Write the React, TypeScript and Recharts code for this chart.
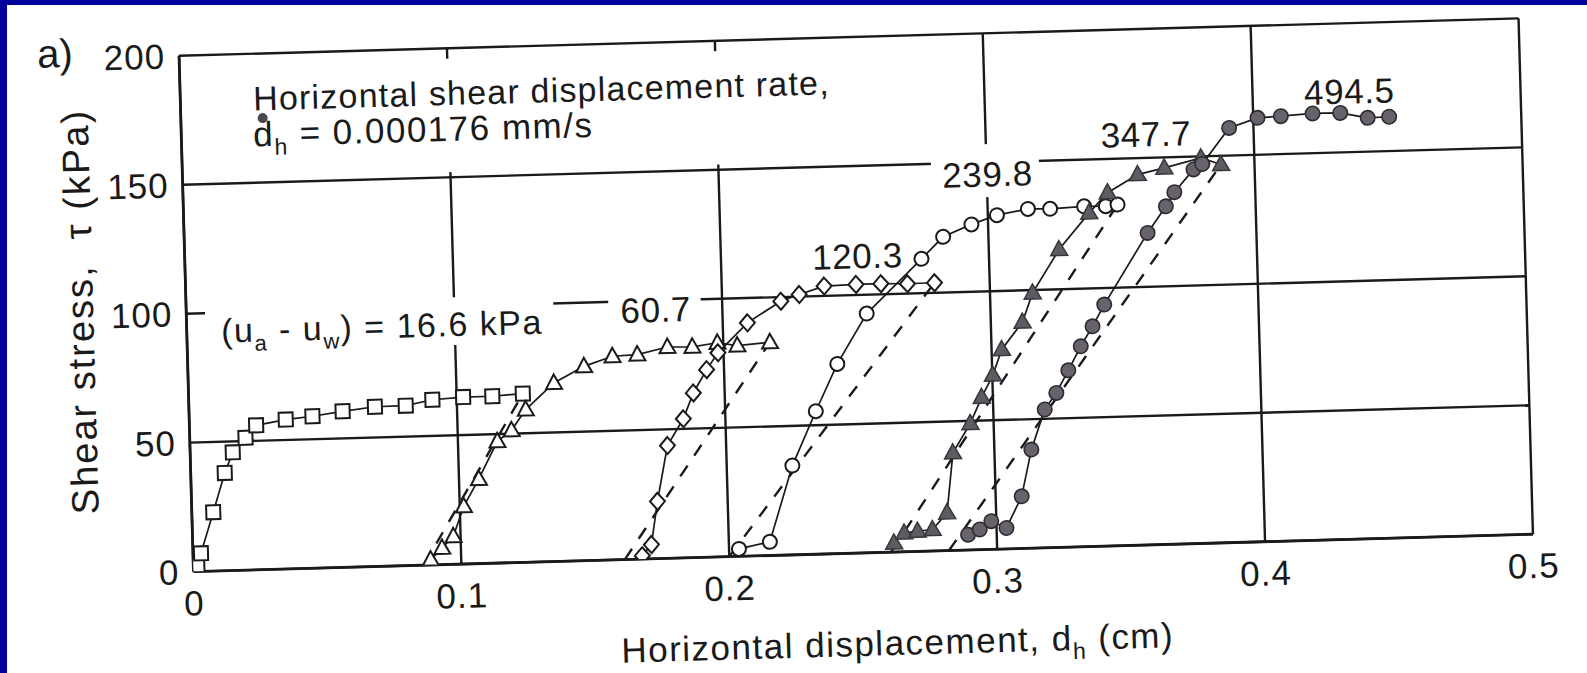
import React from 'react';
import {
  ScatterChart,
  Scatter,
  XAxis,
  YAxis,
  CartesianGrid,
  ReferenceLine,
  ReferenceArea,
  ReferenceDot,
} from 'recharts';

const FONT = '"Liberation Sans", Arial, Helvetica, sans-serif';
const INK = '#1a1a1a';
const BLUE = '#00009c';

// axis ticks
const xTicks = [0, 0.1, 0.2, 0.3, 0.4, 0.5];
const yTicks = [0, 50, 100, 150, 200];

// (ua - uw) = 16.6 kPa  (open squares)
const suction16_6 = [
  { x: 0.0015, y: 2.5 }, { x: 0.003, y: 7 }, { x: 0.008, y: 22.8 }, { x: 0.0127, y: 37.9 },
  { x: 0.0159, y: 45.8 }, { x: 0.0208, y: 51.3 }, { x: 0.0249, y: 56 }, { x: 0.036, y: 57.9 },
  { x: 0.046, y: 58.9 }, { x: 0.0573, y: 60.5 }, { x: 0.0694, y: 61.9 }, { x: 0.0809, y: 62 },
  { x: 0.0909, y: 64 }, { x: 0.1024, y: 64.7 }, { x: 0.1133, y: 64.7 }, { x: 0.1247, y: 65.4 },
];

// 60.7 kPa (open triangles)
const suction60_7 = [
  { x: 0.0886, y: 2.1 }, { x: 0.093, y: 6.5 }, { x: 0.0973, y: 10.9 }, { x: 0.1015, y: 22.4 },
  { x: 0.1074, y: 32.8 }, { x: 0.1147, y: 47.2 }, { x: 0.1201, y: 51.3 }, { x: 0.1256, y: 59.2 },
  { x: 0.1364, y: 69.2 }, { x: 0.1478, y: 75.3 }, { x: 0.1585, y: 78.9 }, { x: 0.1678, y: 79.3 },
  { x: 0.1791, y: 81.9 }, { x: 0.1884, y: 81.7 }, { x: 0.1978, y: 83 }, { x: 0.2052, y: 81.7 },
  { x: 0.2174, y: 82.6 },
];

// 120.3 kPa (open diamonds)
const suction120_3 = [
  { x: 0.1676, y: 1.3 }, { x: 0.1711, y: 5.5 }, { x: 0.1738, y: 22.2 }, { x: 0.1781, y: 43.7 },
  { x: 0.1843, y: 53.9 }, { x: 0.1883, y: 63.8 }, { x: 0.1935, y: 72.7 }, { x: 0.1979, y: 79.1 },
  { x: 0.2092, y: 90.4 }, { x: 0.2219, y: 98.4 }, { x: 0.2288, y: 100.8 }, { x: 0.2382, y: 103.8 },
  { x: 0.2501, y: 104.1 }, { x: 0.2594, y: 104.1 }, { x: 0.2693, y: 103.8 }, { x: 0.2794, y: 103.9 },
];

// 239.8 kPa (open circles)
const suction239_8 = [
  { x: 0.2037, y: 2.9 }, { x: 0.2153, y: 5.3 }, { x: 0.2245, y: 34.6 }, { x: 0.2338, y: 55.4 },
  { x: 0.2423, y: 73.5 }, { x: 0.2538, y: 92.7 }, { x: 0.2748, y: 113.3 }, { x: 0.2831, y: 121.6 },
  { x: 0.2938, y: 126.1 }, { x: 0.3034, y: 129.4 }, { x: 0.315, y: 131.5 }, { x: 0.3233, y: 131.3 },
  { x: 0.336, y: 131.9 }, { x: 0.3441, y: 131.7 }, { x: 0.3485, y: 132.2 },
];

// 347.7 kPa (filled triangles)
const suction347_7 = [
  { x: 0.2616, y: 3.5 }, { x: 0.2655, y: 7.3 }, { x: 0.2705, y: 7.8 }, { x: 0.2761, y: 8.3 },
  { x: 0.2817, y: 14.6 }, { x: 0.2845, y: 37.8 }, { x: 0.2913, y: 49 }, { x: 0.2958, y: 59 },
  { x: 0.3002, y: 67.5 }, { x: 0.3038, y: 77.3 }, { x: 0.3118, y: 87.7 }, { x: 0.3159, y: 98.9 },
  { x: 0.3262, y: 115.4 }, { x: 0.3378, y: 129.3 }, { x: 0.3449, y: 136.9 }, { x: 0.3563, y: 143.6 },
  { x: 0.3663, y: 145.9 }, { x: 0.3801, y: 149.4 }, { x: 0.3875, y: 146.6 },
];

// 494.5 kPa (filled circles)
const suction494_5 = [
  { x: 0.2893, y: 5.9 }, { x: 0.2937, y: 7.8 }, { x: 0.2981, y: 10.9 }, { x: 0.3037, y: 8.1 },
  { x: 0.3097, y: 20.2 }, { x: 0.3138, y: 38.2 }, { x: 0.3192, y: 53.6 }, { x: 0.3237, y: 59.9 },
  { x: 0.3284, y: 68.5 }, { x: 0.3333, y: 77.7 }, { x: 0.3379, y: 85.3 }, { x: 0.3425, y: 93.6 },
  { x: 0.3594, y: 120.9 }, { x: 0.3665, y: 131 }, { x: 0.3698, y: 136.4 }, { x: 0.3772, y: 145 },
  { x: 0.3805, y: 147 }, { x: 0.3909, y: 160.7 }, { x: 0.4016, y: 164.3 }, { x: 0.4103, y: 164.7 },
  { x: 0.4222, y: 165.4 }, { x: 0.4325, y: 165.3 }, { x: 0.4427, y: 163.1 }, { x: 0.4507, y: 163.3 },
];

// dashed guide lines: start on the x axis, end at the last point of the previous stage
const guideStartX = [0.086, 0.161, 0.2, 0.2604, 0.282];

// suction value labels (text, anchor in data units)
const suctionLabels = [
  { text: '60.7', x: 0.162, y: 91.7 },
  { text: '120.3', x: 0.234, y: 110.3 },
  { text: '239.8', x: 0.2834, y: 140.6 },
  { text: '347.7', x: 0.3429, y: 154.4 },
  { text: '494.5', x: 0.4192, y: 168.8 },
];

// ---------- marker shapes ----------
const SquareMark = (p: any) =>
  p.cx == null ? null : (
    <rect x={p.cx - 7} y={p.cy - 7} width={14} height={14} fill="#fff" stroke={INK} strokeWidth={2} />
  );
const TriOpen = (p: any) =>
  p.cx == null ? null : (
    <polygon
      points={`${p.cx},${p.cy - 8.5} ${p.cx + 8},${p.cy + 6} ${p.cx - 8},${p.cy + 6}`}
      fill="#fff" stroke={INK} strokeWidth={2}
    />
  );
const DiamondMark = (p: any) =>
  p.cx == null ? null : (
    <polygon
      points={`${p.cx},${p.cy - 8.5} ${p.cx + 7.5},${p.cy} ${p.cx},${p.cy + 8.5} ${p.cx - 7.5},${p.cy}`}
      fill="#fff" stroke={INK} strokeWidth={2}
    />
  );
const CircleOpen = (p: any) =>
  p.cx == null ? null : <circle cx={p.cx} cy={p.cy} r={7} fill="#fff" stroke={INK} strokeWidth={2} />;
const TriFilled = (p: any) =>
  p.cx == null ? null : (
    <polygon
      points={`${p.cx},${p.cy - 9} ${p.cx + 8.5},${p.cy + 6} ${p.cx - 8.5},${p.cy + 6}`}
      fill="#5f5b63" stroke="#38353b" strokeWidth={1.5}
    />
  );
const CircleFilled = (p: any) =>
  p.cx == null ? null : <circle cx={p.cx} cy={p.cy} r={7.2} fill="#67626b" stroke="#2e2b30" strokeWidth={1.6} />;

const series = [
  { key: 's16', data: suction16_6, shape: SquareMark },
  { key: 's60', data: suction60_7, shape: TriOpen },
  { key: 's120', data: suction120_3, shape: DiamondMark },
  { key: 's239', data: suction239_8, shape: CircleOpen },
  { key: 's347', data: suction347_7, shape: TriFilled },
  { key: 's494', data: suction494_5, shape: CircleFilled },
];

const txt = { fontFamily: FONT, fill: INK } as const;

const fmtX = (v: number) => (v === 0 ? '0' : v.toFixed(1));

export default function App() {
  const W = 1587;
  const H = 673;
  return (
    <div style={{ position: 'fixed', left: 0, top: 0, width: W, height: H, background: '#fff', overflow: 'hidden' }}>
      <div
        style={{
          position: 'absolute', left: 0, top: 0, width: W, height: H,
          transform: 'rotate(-1.6deg)', transformOrigin: '856px 295px',
        }}
      >
        <ScatterChart width={W} height={H} margin={{ top: 37, right: 61, bottom: 60, left: 106 }}>
          <CartesianGrid stroke={INK} strokeWidth={2.4} fill="#fff" />
          <XAxis
            type="number" dataKey="x" domain={[0, 0.5]} ticks={xTicks} tickFormatter={fmtX}
            height={60} tickLine={false} tickSize={0} tickMargin={19}
            axisLine={{ stroke: INK, strokeWidth: 2.8 }}
            tick={{ fontSize: 35, fontFamily: FONT, fill: INK, letterSpacing: 1 }}
            allowDataOverflow
          />
          <YAxis
            type="number" dataKey="y" domain={[0, 200]} ticks={yTicks}
            width={80} tickLine={false} tickSize={0} tickMargin={14}
            axisLine={{ stroke: INK, strokeWidth: 2.8 }}
            tick={{ fontSize: 35, fontFamily: FONT, fill: INK, letterSpacing: 1 }}
            allowDataOverflow
          />

          {/* white backgrounds of the annotations, hiding the grid behind them */}
          <ReferenceArea x1={0.02} x2={0.25} y1={152} y2={196} fill="#fff" fillOpacity={1} stroke="none" />
          <ReferenceArea x1={0.007} x2={0.137} y1={85} y2={103.5} fill="#fff" fillOpacity={1} stroke="none" />
          <ReferenceArea x1={0.1575} x2={0.192} y1={89} y2={104} fill="#fff" fillOpacity={1} stroke="none" />
          <ReferenceArea x1={0.2793} x2={0.3196} y1={136.5} y2={157} fill="#fff" fillOpacity={1} stroke="none" />

          {guideStartX.map((sx, i) => {
            const end = series[i].data[series[i].data.length - 1];
            return (
              <ReferenceLine
                key={'g' + i}
                segment={[{ x: sx, y: 0 }, { x: end.x, y: end.y }]}
                stroke={INK} strokeWidth={2.4} strokeDasharray="13 12" ifOverflow="visible"
              />
            );
          })}

          {series.map((s) => (
            <Scatter
              key={s.key}
              data={s.data}
              shape={s.shape}
              line={{ stroke: INK, strokeWidth: 1.7 }}
              isAnimationActive={false}
            />
          ))}

          <ReferenceDot
            x={0.0272} y={178} r={1} ifOverflow="visible"
            shape={(p: any) => (
              <text x={p.cx} y={p.cy} fontSize={34} letterSpacing={1.2} {...txt}>
                Horizontal shear displacement rate,
              </text>
            )}
          />
          <ReferenceDot
            x={0.0268} y={164.1} r={1} ifOverflow="visible"
            shape={(p: any) => (
              <g>
                <circle cx={p.cx + 10} cy={p.cy - 28} r={5} fill="#4a464d" />
                <text x={p.cx} y={p.cy} fontSize={35} letterSpacing={1.5} {...txt}>
                  <tspan>d</tspan>
                  <tspan dy={9} fontSize={23}>h</tspan>
                  <tspan dy={-9}> = 0.000176 mm/s</tspan>
                </text>
              </g>
            )}
          />
          <ReferenceDot
            x={0.0128} y={88.4} r={1} ifOverflow="visible"
            shape={(p: any) => (
              <text x={p.cx} y={p.cy} fontSize={34} letterSpacing={1.5} {...txt}>
                <tspan>(u</tspan>
                <tspan dy={9} fontSize={22}>a</tspan>
                <tspan dy={-9}> - u</tspan>
                <tspan dy={9} fontSize={22}>w</tspan>
                <tspan dy={-9}>) = 16.6 kPa</tspan>
              </text>
            )}
          />
          {suctionLabels.map((l) => (
            <ReferenceDot
              key={l.text}
              x={l.x} y={l.y} r={1} ifOverflow="visible"
              shape={(p: any) => (
                <text x={p.cx} y={p.cy} fontSize={35} letterSpacing={0.6} {...txt}>{l.text}</text>
              )}
            />
          ))}
        </ScatterChart>

        <svg
          width={W} height={H}
          style={{ position: 'absolute', left: 0, top: 0, pointerEvents: 'none', overflow: 'visible' }}
        >
          <text x={62} y={31} fontSize={40} textAnchor="middle" dominantBaseline="central" {...txt}>a)</text>
          <text
            x={80} y={290} fontSize={38} letterSpacing={2} textAnchor="middle" dominantBaseline="central"
            transform="rotate(-90 80 290)" {...txt}
          >
            {'Shear stress,\u00A0\u00A0τ (kPa)'}
          </text>
          <text x={888} y={656} fontSize={35} letterSpacing={1.5} textAnchor="middle" {...txt}>
            <tspan>Horizontal displacement, d</tspan>
            <tspan dy={9} fontSize={23}>h</tspan>
            <tspan dy={-9}> (cm)</tspan>
          </text>
        </svg>
      </div>

      <div style={{ position: 'absolute', left: 0, top: 0, width: W, height: 5, background: BLUE }} />
      <div style={{ position: 'absolute', left: 0, top: 0, width: 7, height: H, background: BLUE }} />
    </div>
  );
}
